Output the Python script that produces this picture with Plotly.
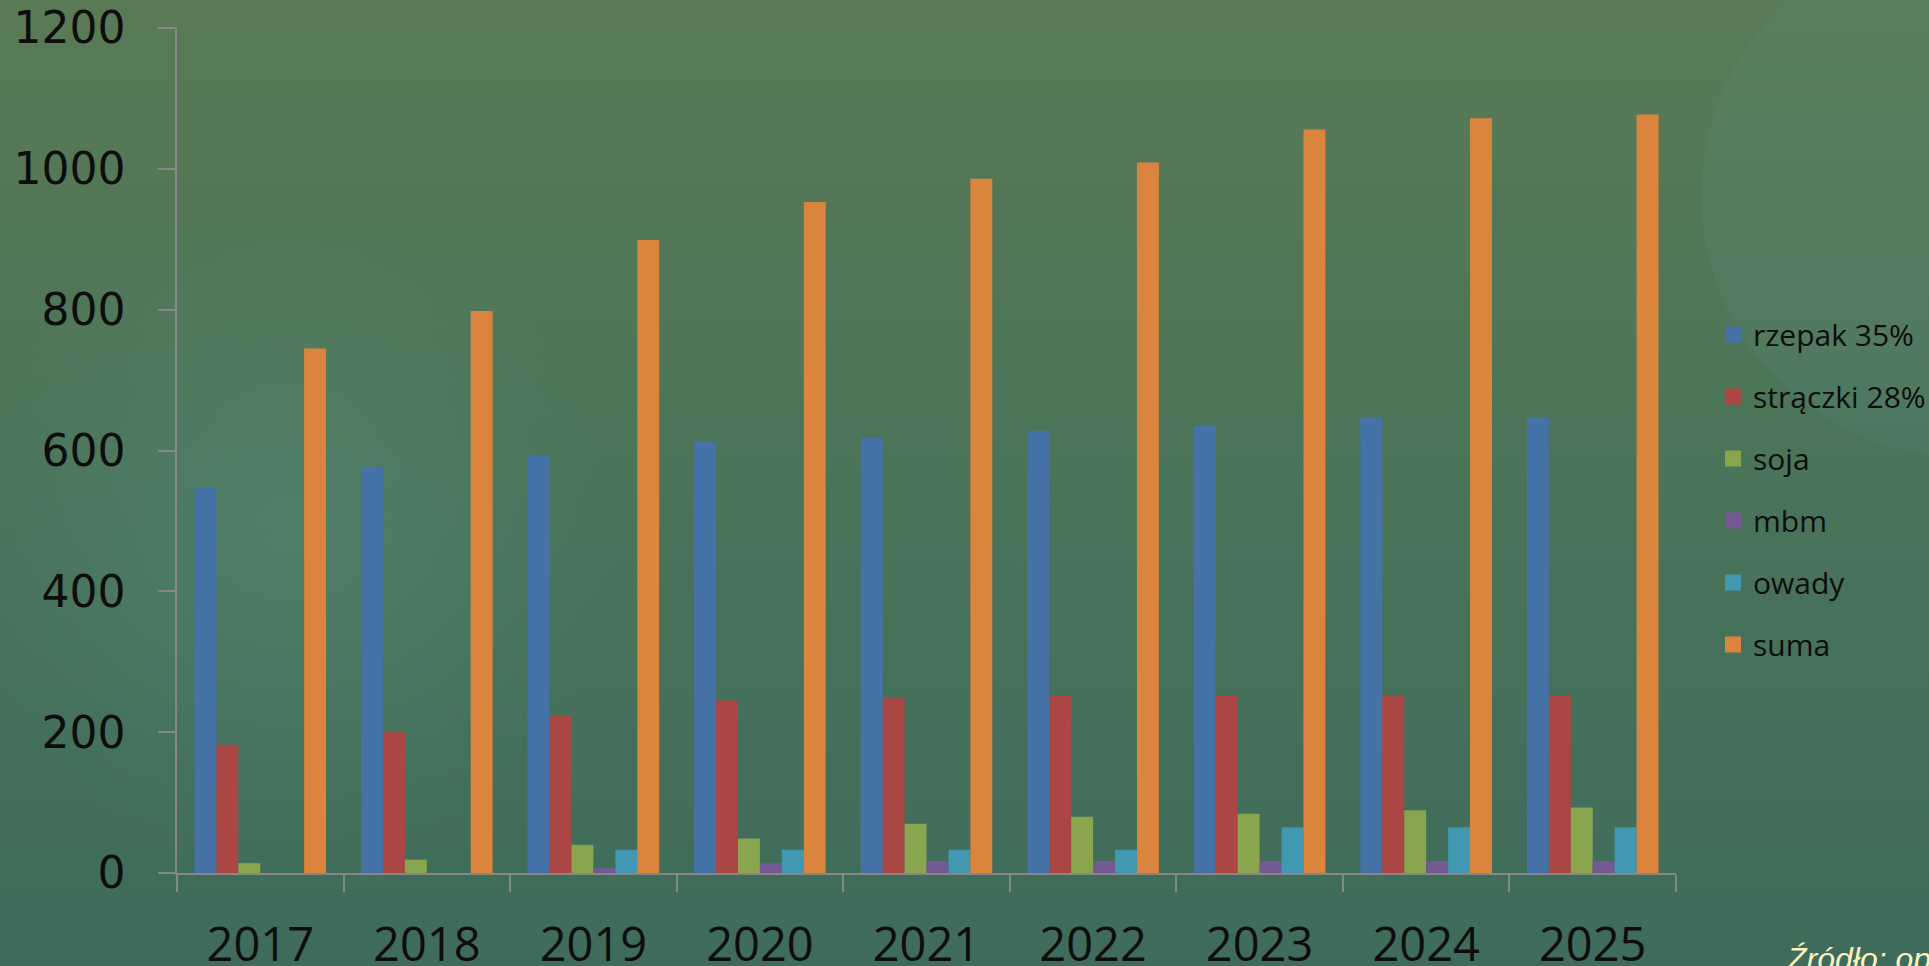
import base64
import plotly.graph_objects as go

years = ["2017", "2018", "2019", "2020", "2021", "2022", "2023", "2024", "2025"]
rzepak = [548, 577, 593, 612, 618, 628, 635, 647, 647]
straczki = [182, 200, 224, 245, 248, 252, 252, 252, 252]
soja = [14, 19, 40, 49, 70, 80, 84, 89, 93]
mbm = [0, 0, 7, 14, 17, 17, 17, 17, 17]
owady = [0, 0, 33, 33, 33, 33, 65, 65, 65]
suma = [745, 798, 899, 953, 986, 1009, 1056, 1072, 1077]

series_names = ["rzepak 35%", "strączki 28%", "soja", "mbm", "owady", "suma"]
series_values = [rzepak, straczki, soja, mbm, owady, suma]
colors = ["#4572A7", "#AA4643", "#89A54E", "#745A92", "#4298B0", "#DB843D"]
y_ticks = [0, 200, 400, 600, 800, 1000, 1200]

W, H = 1929, 966
L, R, T, B = 177, 253, 28, 93
PW, PH = W - L - R, H - T - B

svg = f'''<svg xmlns="http://www.w3.org/2000/svg" width="{W}" height="{H}" viewBox="0 0 {W} {H}">
<defs>
<linearGradient id="g" x1="0" y1="0" x2="0" y2="1">
<stop offset="0" stop-color="#5a7a55"/>
<stop offset="0.5" stop-color="#4a7459"/>
<stop offset="1" stop-color="#3e6b5b"/>
</linearGradient>
<radialGradient id="r1" cx="0.5" cy="0.5" r="0.5">
<stop offset="0" stop-color="#5f9a88" stop-opacity="0.30"/>
<stop offset="1" stop-color="#5f9a88" stop-opacity="0"/>
</radialGradient>
</defs>
<rect width="{W}" height="{H}" fill="url(#g)"/>
<circle cx="290" cy="540" r="330" fill="url(#r1)"/>
<circle cx="1963" cy="195" r="262" fill="#5fa090" fill-opacity="0.12"/>
</svg>'''
bg_uri = "data:image/svg+xml;base64," + base64.b64encode(svg.encode()).decode()

fig = go.Figure()
for name, vals, col in zip(series_names, series_values, colors):
    fig.add_trace(go.Bar(x=years, y=vals, name=name, marker=dict(color=col, line=dict(width=0)),
                         showlegend=False, legendgroup=name))
for name, col in zip(series_names, colors):
    fig.add_trace(go.Scatter(x=[None], y=[None], mode="markers", name=name, legendgroup=name,
                             marker=dict(symbol="square", size=16, color=col)))

axis_col = "#878787"
fig.update_layout(
    width=W, height=H,
    margin=dict(l=L, r=R, t=T, b=B, pad=0, autoexpand=False),
    paper_bgcolor="#4a7459",
    plot_bgcolor="rgba(0,0,0,0)",
    barmode="group", bargap=0.21, bargroupgap=0,
    font=dict(family="Open Sans", color="#0d0d0d"),
    images=[dict(source=bg_uri, xref="paper", yref="paper",
                 x=-L / PW, y=1 + T / PH, sizex=W / PW, sizey=H / PH,
                 sizing="stretch", layer="below", xanchor="left", yanchor="top")],
    xaxis=dict(type="category", automargin=False, showgrid=False, showline=True, linecolor=axis_col,
               linewidth=1.5, ticks="outside", tickson="boundaries", ticklen=17, tickcolor=axis_col,
               tickwidth=1.5, tickfont=dict(family="Open Sans", size=47, color="#0d0d0d"),
               ticklabelstandoff=30),
    yaxis=dict(range=[0, 1200], automargin=False, tickvals=y_ticks, showgrid=False, zeroline=False,
               showline=True, linecolor=axis_col, linewidth=1.5, ticks="outside", ticklen=17,
               tickcolor=axis_col, tickwidth=1.5,
               tickfont=dict(family="DejaVu Sans", size=44, color="#0d0d0d"), ticklabelstandoff=24),
    legend=dict(x=(1713 - L) / PW, xanchor="left", y=0.668, yanchor="top",
                bgcolor="rgba(0,0,0,0)", font=dict(family="Open Sans", size=30, color="#0d0d0d"),
                tracegroupgap=20, traceorder="grouped", itemwidth=30),
    annotations=[dict(text="<i>Źródło: opracowanie własne</i>", xref="paper", yref="paper",
                      x=(1784 - L) / PW, y=(873 - 939) / PH, xanchor="left", yanchor="top",
                      showarrow=False, font=dict(family="Liberation Sans", size=32, color="#f9f3c0"))],
)

fig.write_html("out.html", config={"displayModeBar": False},
               post_script="document.body.style.margin='0';document.body.style.overflow='hidden';")
